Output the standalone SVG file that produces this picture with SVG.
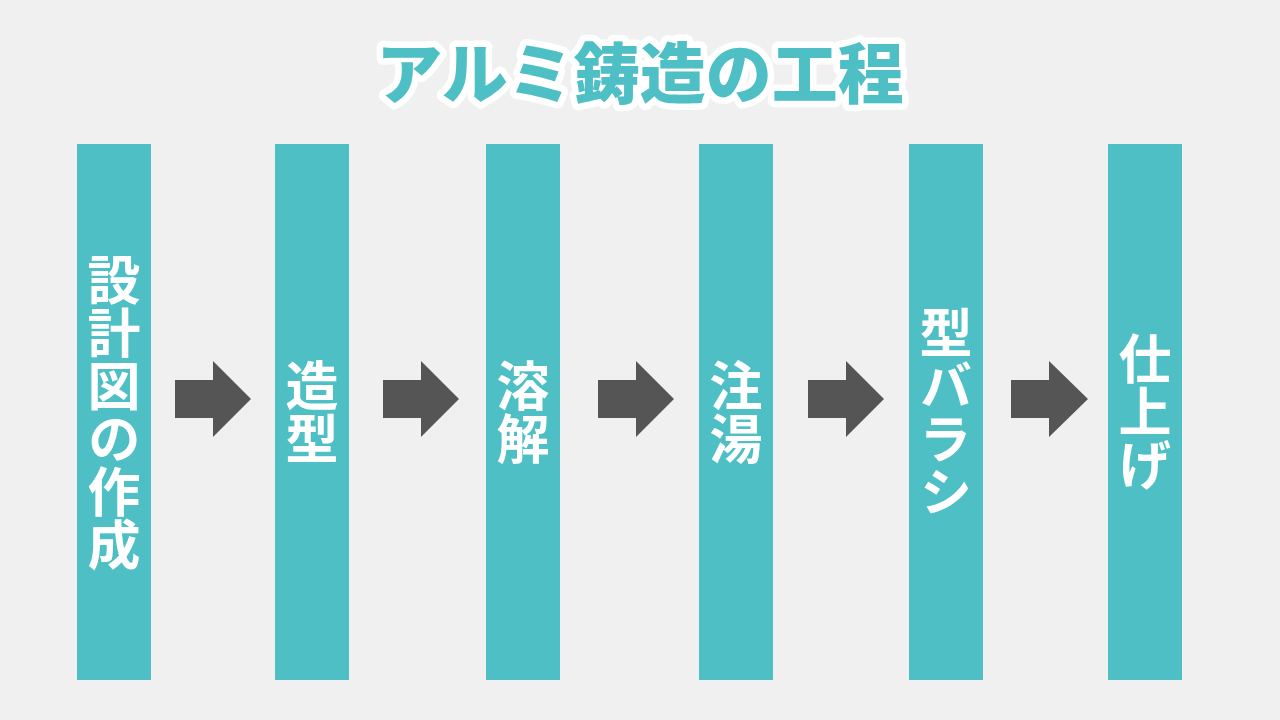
<svg xmlns="http://www.w3.org/2000/svg" width="1280" height="720" viewBox="0 0 1280 720">
<style>
.bar{fill:#4EBFC5}
.lbl{font-family:"Noto Sans CJK JP","Noto Sans CJK SC",sans-serif;font-weight:700;font-size:53px;fill:#FFFFFF;writing-mode:vertical-rl;text-anchor:middle}
.arr{fill:#555555}
.title{font-family:"Noto Sans CJK JP","Noto Sans CJK SC",sans-serif;font-weight:900;font-size:66px;fill:#4EBFC5;stroke:#FFFFFF;stroke-width:13px;stroke-linejoin:round;paint-order:stroke;text-anchor:middle}
</style>
<rect width="1280" height="720" fill="#F0F0F0"/>
<text class="title" x="640" y="98">アルミ鋳造の工程</text>
<g id="n1"><rect class="bar" x="77" y="144" width="74" height="536"/><text class="lbl" x="114" y="412">設計図の作成</text></g>
<g id="n2"><rect class="bar" x="275" y="144" width="74" height="536"/><text class="lbl" x="312" y="412">造型</text></g>
<g id="n3"><rect class="bar" x="486" y="144" width="74" height="536"/><text class="lbl" x="523" y="412">溶解</text></g>
<g id="n4"><rect class="bar" x="699" y="144" width="74" height="536"/><text class="lbl" x="736" y="412">注湯</text></g>
<g id="n5"><rect class="bar" x="909" y="144" width="74" height="536"/><text class="lbl" x="946" y="412">型バラシ</text></g>
<g id="n6"><rect class="bar" x="1108" y="144" width="74" height="536"/><text class="lbl" x="1145" y="412">仕上げ</text></g>
<g id="connectors">
<polygon class="arr" points="175,380 213,380 213,361 251,399 213,437 213,418 175,418"/>
<polygon class="arr" points="383,380 421,380 421,361 459,399 421,437 421,418 383,418"/>
<polygon class="arr" points="598,380 636,380 636,361 674,399 636,437 636,418 598,418"/>
<polygon class="arr" points="808,380 846,380 846,361 884,399 846,437 846,418 808,418"/>
<polygon class="arr" points="1011,380 1049,380 1049,361 1088,399 1049,437 1049,418 1011,418"/>
</g>
</svg>
